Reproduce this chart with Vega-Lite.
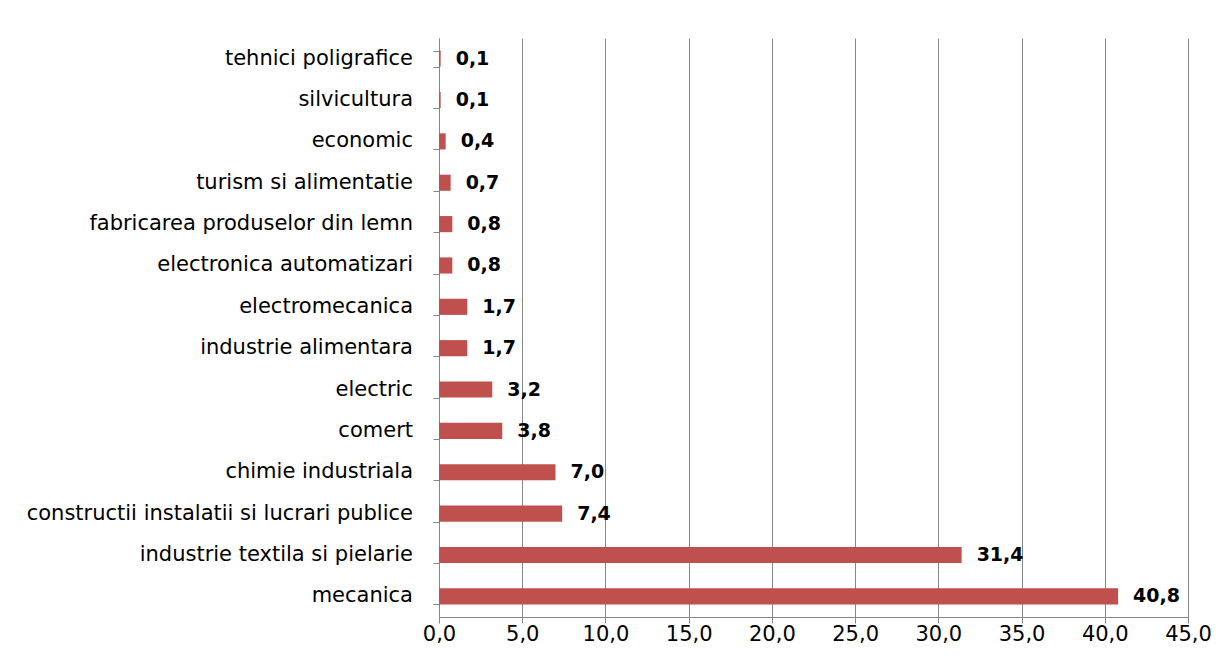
{
  "$schema": "https://vega.github.io/schema/vega-lite/v6.json",
  "width": 749,
  "height": 579,
  "autosize": {"type": "none"},
  "padding": {"left": 439, "top": 38, "right": 40, "bottom": 51},
  "background": "white",
  "config": {
    "locale": {"number": {"decimal": ",", "thousands": ".", "grouping": [3], "currency": ["", ""]}},
    "view": {"stroke": null},
    "font": "DejaVu Sans"
  },
  "data": {
    "values": [
      {"domeniu": "tehnici poligrafice", "procent": 0.1},
      {"domeniu": "silvicultura", "procent": 0.1},
      {"domeniu": "economic", "procent": 0.4},
      {"domeniu": "turism si alimentatie", "procent": 0.7},
      {"domeniu": "fabricarea produselor din lemn", "procent": 0.8},
      {"domeniu": "electronica automatizari", "procent": 0.8},
      {"domeniu": "electromecanica", "procent": 1.7},
      {"domeniu": "industrie alimentara", "procent": 1.7},
      {"domeniu": "electric", "procent": 3.2},
      {"domeniu": "comert", "procent": 3.8},
      {"domeniu": "chimie industriala", "procent": 7.0},
      {"domeniu": "constructii instalatii si lucrari publice", "procent": 7.4},
      {"domeniu": "industrie textila si pielarie", "procent": 31.4},
      {"domeniu": "mecanica", "procent": 40.8}
    ]
  },
  "encoding": {
    "y": {
      "field": "domeniu",
      "type": "nominal",
      "sort": null,
      "scale": {"paddingInner": 0.61, "paddingOuter": 0.305},
      "axis": {
        "title": null,
        "labels": false,
        "tickBand": "extent",
        "domainColor": "#868686",
        "tickColor": "#868686",
        "tickSize": 6
      }
    },
    "x": {
      "field": "procent",
      "type": "quantitative",
      "scale": {"domain": [0, 45], "nice": false},
      "axis": {
        "title": null,
        "values": [0, 5, 10, 15, 20, 25, 30, 35, 40, 45],
        "format": ".1f",
        "labelFlush": false,
        "labelOverlap": false,
        "domainColor": "#868686",
        "tickColor": "#868686",
        "gridColor": "#868686",
        "tickSize": 6,
        "labelFont": "DejaVu Sans",
        "labelFontSize": 21,
        "labelColor": "black",
        "labelPadding": 0
      }
    }
  },
  "layer": [
    {"mark": {"type": "bar", "color": "#C0504D"}},
    {
      "mark": {"type": "text", "align": "left", "dx": 15, "font": "DejaVu Sans", "fontSize": 19, "fontWeight": "bold", "color": "black"},
      "encoding": {"text": {"field": "procent", "type": "quantitative", "format": ".1f"}}
    },
    {
      "mark": {"type": "text", "align": "right", "dx": -26, "font": "DejaVu Sans", "fontSize": 21, "color": "black"},
      "encoding": {
        "x": {"datum": 0},
        "text": {"field": "domeniu", "type": "nominal"}
      }
    }
  ]
}
